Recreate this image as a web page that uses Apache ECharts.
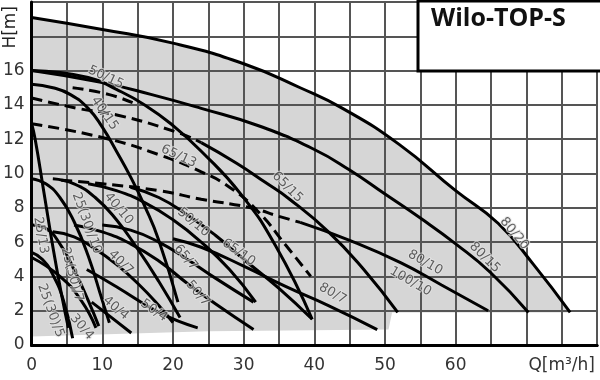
<!DOCTYPE html>
<html><head><meta charset="utf-8">
<script src="https://cdn.jsdelivr.net/npm/echarts/dist/echarts.min.js"></script>
<style>html,body{margin:0;padding:0;background:#fff}#c{width:600px;height:380px}</style>
</head><body><div id="c"></div>
<script>
// ---- data (Q in m3/h, H in m) ----
const c80_20 = [[0,19.1],[10,18.4],[20,17.6],[30,16.4],[38,15.0],[44,13.8],[52,11.7],[60,9.0],[66,7.1],[71,4.7],[76.2,1.9]];
const c80_15 = [[0,16.0],[10,15.3],[17,14.6],[24,13.8],[32,12.8],[40,11.4],[45,10.2],[50,8.8],[55,7.4],[60,5.9],[65,4.2],[70.3,1.9]];
const c50_15 = [[0,16.0],[8,15.6],[12,14.9],[16,14.0],[20,12.8],[24,11.3],[29.6,8.8],[34.5,5.8],[39.7,1.5]];
const c40_15 = [[0,15.2],[3,15.0],[5.5,14.6],[8,13.8],[10,12.7],[12,11.3],[14,9.8],[16,8.1],[18,6.1],[20.7,2.5]];
const c65_15d = [[0,14.4],[6.5,13.8],[12.2,13.4],[20.6,12.4],[24,11.8]];
const c65_15 = [[24,11.8],[29,10.6],[33,9.5],[36.5,8.5],[42,6.6],[47,4.4],[51.8,1.9]];
const c50_15d = [[5.8,15.0],[11,14.6],[15,14.0]];
const c65_13d = [[0,12.9],[10,12.1],[18,11.1],[24,10.1],[28,9.2],[32,7.8],[36,5.8],[39.5,4.0]];
const c80_10d = [[4.2,9.6],[10,9.4],[18,9.0],[24,8.5],[31,8.0],[35,7.5],[38,7.15]];
const c80_10 = [[38,7.15],[45,6.1],[52.2,4.8],[58,3.5],[64.6,2.0]];
const c65_10 = [[14,9.2],[18,8.6],[22,7.6],[26,6.4],[30,5.0],[35,3.3],[39.7,1.5]];
const c50_10 = [[8,9.4],[12,9.0],[16,8.3],[20,7.3],[24,6.0],[28,4.4],[31.7,2.5]];
const c40_10 = [[3,9.7],[6,9.4],[9,8.6],[12,7.3],[15,5.6],[18,3.7],[21,1.6]];
const c80_7 = [[20,6.2],[24,5.7],[30,4.6],[36,3.4],[42,2.3],[48.9,0.9]];
const c65_7 = [[10,7.0],[14,6.7],[18,6.0],[22,5.0],[26,3.9],[31.4,2.5]];
const c50_7 = [[6,7.0],[10,6.6],[14,5.9],[18,4.9],[22,3.6],[26,2.4],[31.4,0.9]];
const c40_7 = [[3,6.6],[6,6.3],[9,5.6],[12,4.7],[15,3.6],[18,2.3],[20,1.3]];
const c50_4 = [[7.8,4.4],[12,3.4],[18,1.9],[23.5,1.0]];
const c40_4 = [[8.5,2.5],[11,1.7],[14.1,0.7]];
const c30_4 = [[0,5.1],[4,4.0],[7,2.6],[9.1,1.0]];
const c25_5 = [[0,5.4],[1.5,5.0],[3,4.1],[4.5,2.6],[5.8,0.4]];
const c25_7 = [[0,7.0],[2,6.8],[4,5.9],[6,4.4],[8,2.6],[9.5,1.1]];
const c25_10 = [[0,9.7],[2,9.4],[4,8.6],[6,7.2],[8,5.2],[10,2.6],[11,1.3]];
const c25_13 = [[0,12.9],[0.5,12.0],[1.7,9.0],[3.1,5.5],[4.3,2.8],[5.2,1.0]];
const shadeFloor = [[76.2,1.9],[51,1.9],[50.5,0.9],[25,0.8],[0,0.5]];

const solidCurves = [c80_20,c80_15,c50_15,c40_15,c65_15,c80_10,c65_10,c50_10,c40_10,c80_7,c65_7,c50_7,c40_7,c50_4,c40_4,c30_4,c25_5,c25_7,c25_10,c25_13];
const dashedCurves = [c65_15d,c50_15d,c65_13d,c80_10d];

const labelTexts   = ['50/15','40/15','65/13','65/15','40/10','50/10','65/10','65/7','50/7','80/7','80/10','100/10','80/15','80/20','25/13','25(30)/10','40/7','25(30)/7','25(30)/5','30/4','40/4','50/4'];
const labelAnchors = [[10.5,15.6],[10.3,13.5],[20.8,11.0],[36.2,9.2],[12.3,7.95],[22.9,7.15],[29.3,5.4],[21.8,5.1],[23.5,3.0],[42.6,3.0],[55.7,4.8],[53.6,3.7],[64.1,5.1],[68.3,6.5],[1.3,6.4],[7.8,7.1],[12.6,4.8],[5.7,4.1],[2.7,2.0],[7.1,1.05],[11.9,2.15],[17.3,2.0]];
const labelAngles  = [-25,-55,-25,-45,-50,-40,-35,-50,-50,-30,-30,-30,-45,-50,-80,-70,-45,-75,-70,-50,-40,-35];

const xTickLabels = [0,10,20,30,40,50,60];
const yTickLabels = [0,2,4,6,8,10,12,14,16];
const title = 'Wilo-TOP-S';

// ---- chart ----
const chart = echarts.init(document.getElementById('c'), null, {renderer:'canvas'});
const series = [];
series.push({
  type:'custom', z:-1, silent:true, data:[[0,0]],
  renderItem:(params, api)=>{
    const pts = c80_20.concat(shadeFloor).map(p=>api.coord(p));
    return {type:'polygon', shape:{points:pts, smooth:0}, style:{fill:'#d6d6d6'}};
  }
});
const lineBase = {type:'line', smooth:0.5, showSymbol:false, silent:true, z:3};
solidCurves.forEach(d=>series.push(Object.assign({}, lineBase, {data:d, lineStyle:{color:'#000', width:3}})));
dashedCurves.forEach(d=>series.push(Object.assign({}, lineBase, {data:d, lineStyle:{color:'#000', width:3, type:[11,6]}})));
series.push({type:'scatter', symbolSize:0, silent:true, z:5,
  data: labelAnchors.map((p,i)=>({value:p, name:labelTexts[i], label:{rotate:labelAngles[i]}})),
  label:{show:true, position:'inside', formatter:'{b}', fontFamily:'DejaVu Sans', fontSize:13, color:'#3a3a3a',
    textBorderColor:'rgba(228,228,228,0.9)', textBorderWidth:2}
});

chart.setOption({
  animation:false,
  grid:{left:31, right:3, top:2, bottom:35},
  xAxis:[{type:'value', min:0, max:80, interval:5,
    axisLine:{show:true, onZero:false, lineStyle:{color:'#000', width:3}},
    axisTick:{show:false},
    axisLabel:{margin:12, fontFamily:'DejaVu Sans', fontSize:17, color:'#333',
      formatter:v=> xTickLabels.includes(v) ? String(v) : (v===75 ? 'Q[m³/h]' : '')},
    splitLine:{show:true, lineStyle:{color:'#555', width:2}}},
    {type:'value', position:'top', min:0, max:80, axisLine:{show:true, lineStyle:{color:'#000', width:3}},
     axisTick:{show:false}, axisLabel:{show:false}, splitLine:{show:false}}],
  yAxis:{type:'value', min:0, max:20, interval:2,
    axisLine:{show:true, onZero:false, lineStyle:{color:'#000', width:3}},
    axisTick:{show:false},
    axisLabel:{margin:7, fontFamily:'DejaVu Sans', fontSize:17, color:'#333',
      formatter:v=> yTickLabels.includes(v) ? String(v) : ''},
    splitLine:{show:true, lineStyle:{color:'#555', width:2}}},
  graphic:[
    {type:'rect', z:50, shape:{x:418, y:1, width:190, height:70}, style:{fill:'#fff', stroke:'#000', lineWidth:3}},
    {type:'text', z:51, left:431, top:6, style:{text:title, font:'bold 25px "Open Sans"', fill:'#111'}},
    {type:'text', z:51, left:2, top:6, rotation:Math.PI/2, style:{text:'H[m]', font:'17px "DejaVu Sans"', fill:'#222'}}
  ],
  series
});
</script></body></html>
